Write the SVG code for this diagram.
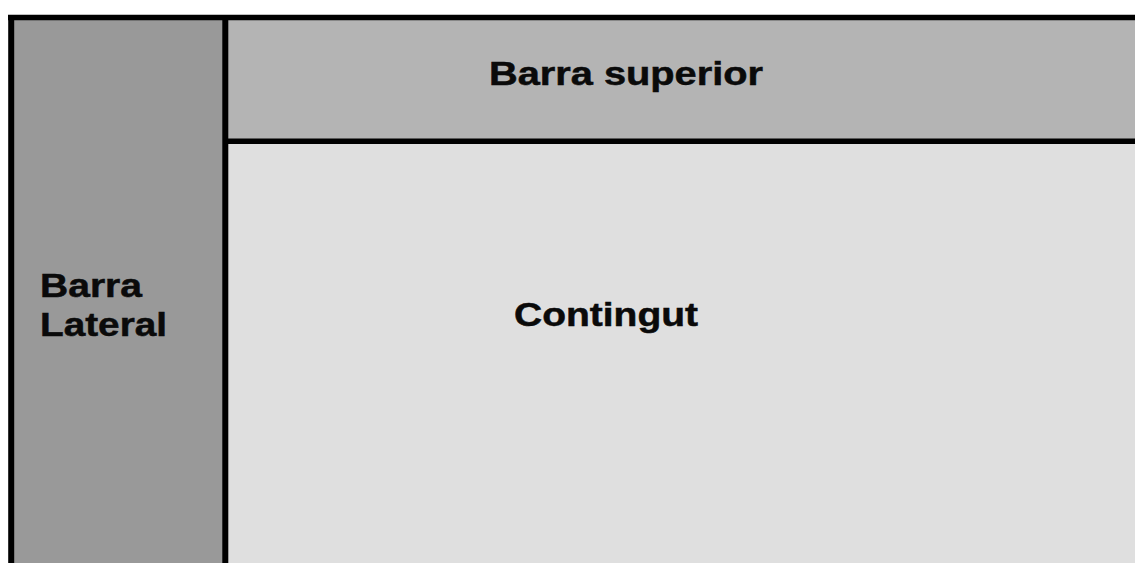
<svg xmlns="http://www.w3.org/2000/svg" width="1135" height="563" viewBox="0 0 1135 563">
  <style>
    .label { font-family: "Liberation Sans", Arial, sans-serif; font-weight: bold; font-size: 33px; fill: #0a0a0a; stroke: #0a0a0a; stroke-width: 0.5px; }
    .edge { stroke: #000; fill: none; stroke-linecap: butt; }
  </style>
  <rect x="0" y="0" width="1135" height="563" fill="#ffffff"/>

  <!-- Side bar -->
  <g id="barra-lateral">
    <rect x="11" y="17" width="214" height="546" fill="#999999"/>
    <text class="label" x="40" y="297" textLength="102" lengthAdjust="spacingAndGlyphs">Barra</text>
    <text class="label" x="40" y="336" textLength="127" lengthAdjust="spacingAndGlyphs">Lateral</text>
  </g>

  <!-- Top bar -->
  <g id="barra-superior">
    <rect x="225" y="17" width="910" height="124" fill="#b4b4b4"/>
    <text class="label" x="489" y="85" textLength="274" lengthAdjust="spacingAndGlyphs">Barra superior</text>
  </g>

  <!-- Content area -->
  <g id="contingut">
    <rect x="225" y="141" width="910" height="422" fill="#dfdfdf"/>
    <text class="label" x="514" y="326" textLength="184" lengthAdjust="spacingAndGlyphs">Contingut</text>
  </g>

  <!-- Frame and dividers -->
  <g id="borders" class="edge">
    <line x1="8" y1="17.5" x2="1135" y2="17.5" stroke-width="5.5"/>
    <line x1="11.2" y1="15" x2="11.2" y2="563" stroke-width="6"/>
    <line x1="225.3" y1="15" x2="225.3" y2="563" stroke-width="6"/>
    <line x1="225" y1="141.2" x2="1135" y2="141.2" stroke-width="5.5"/>
  </g>
</svg>
